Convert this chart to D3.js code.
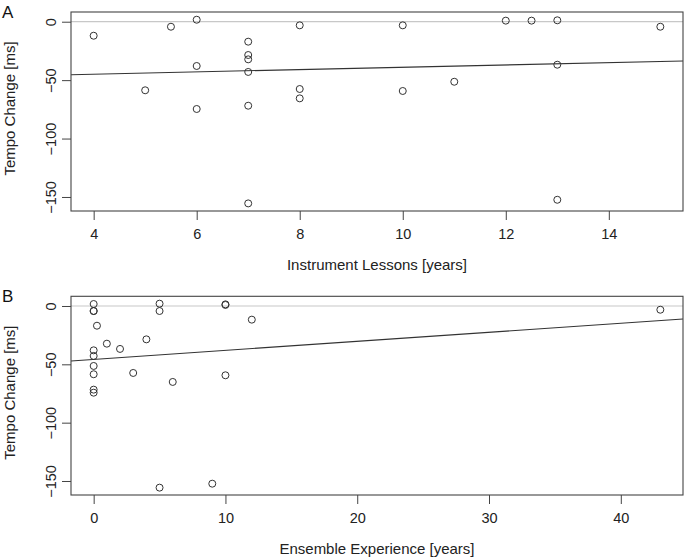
<!DOCTYPE html>
<html>
<head>
<meta charset="utf-8">
<script src="https://cdn.jsdelivr.net/npm/d3@7"></script>
<style>
  body { margin: 0; background: #fff; }
  svg { display: block; font-family: "Liberation Sans", Arial, Helvetica, sans-serif; }
</style>
</head>
<body>
<svg id="chart" width="685" height="559"></svg>
<script>
// Panel A: instrument lessons vs tempo change
const lessonsYears = [4, 5, 5.5, 6, 6, 6, 7, 7, 7, 7, 7, 7, 8, 8, 8, 10, 10, 11, 12, 12.5, 13, 13, 13, 15];
const lessonsTempo = [-12, -58.7, -4.3, 1.7, -37.9, -74.7, -17.1, -28.5, -32.2, -43, -71.9, -155.5, -3.1, -57.6, -65.6, -3.1, -59.3, -51.4, 0.9, 0.9, 1.2, -36.8, -152.4, -4.3];

// Panel B: ensemble experience vs tempo change
const ensembleYears = [0, 0, 0.25, 1, 2, 4, 0, 0, 0, 0, 0, 0, 3, 5, 5, 6, 10, 10, 10, 12, 5, 9, 43, 0];
const ensembleTempo = [1.7, -4.3, -16.9, -32.3, -36.8, -28.6, -38, -42.8, -51.4, -58.5, -71.7, -74.3, -57.4, 2, -4.3, -65.1, 1.4, 0.9, -59.4, -11.7, -155.7, -152.3, -3.2, -4.3];

// fitted lines [intercept, slope]
const fitA = [-48.9, 0.993];
const fitB = [-45.8, 0.775];

const xTicksA = [4, 6, 8, 10, 12, 14];
const xTicksB = [0, 10, 20, 30, 40];
const yTicks = [0, -50, -100, -150];

const svg = d3.select('#chart');
const left = 71, right = 683;

// R style: extend data range by 4% on each side
function rRange(vals) {
  const [lo, hi] = d3.extent(vals);
  const pad = (hi - lo) * 0.04;
  return [lo - pad, hi + pad];
}

const yDomain = rRange(lessonsTempo.concat(ensembleTempo));

function drawPanel(opts) {
  const { top, bottom, xs, ys, fit, xTicks, letter, xLabel } = opts;
  const g = svg.append('g');

  const x = d3.scaleLinear().domain(rRange(xs)).range([left, right]);
  const y = d3.scaleLinear().domain(yDomain).range([bottom, top]);

  // reference line at 0
  g.append('line')
    .attr('x1', left).attr('x2', right)
    .attr('y1', y(0)).attr('y2', y(0))
    .attr('stroke', '#c8c8c8')
    .attr('stroke-width', 1.2);

  // regression line
  const [x0, x1] = x.domain();
  g.append('line')
    .attr('x1', x(x0)).attr('x2', x(x1))
    .attr('y1', y(fit[0] + fit[1] * x0))
    .attr('y2', y(fit[0] + fit[1] * x1))
    .attr('stroke', '#333')
    .attr('stroke-width', 1.1);

  // points
  g.selectAll('circle')
    .data(xs.map((d, i) => [d, ys[i]]))
    .join('circle')
    .attr('cx', d => x(d[0]))
    .attr('cy', d => y(d[1]))
    .attr('r', 3.5)
    .attr('fill', 'none')
    .attr('stroke', '#333')
    .attr('stroke-width', 1);

  // box
  g.append('rect')
    .attr('x', left).attr('y', top)
    .attr('width', right - left).attr('height', bottom - top)
    .attr('fill', 'none')
    .attr('stroke', '#444')
    .attr('stroke-width', 1.1);

  // x axis
  const xAxis = g.append('g')
    .attr('transform', `translate(0,${bottom})`)
    .call(d3.axisBottom(x).tickValues(xTicks).tickSize(9).tickPadding(9).tickFormat(d3.format('d')));
  xAxis.select('.domain').remove();
  xAxis.selectAll('line').attr('stroke', '#444');
  xAxis.selectAll('text').attr('font-size', 14.5).attr('fill', '#222').attr('font-family', null);

  // y axis, labels rotated like R default
  const yAxis = g.append('g')
    .attr('transform', `translate(${left},0)`)
    .call(d3.axisLeft(y).tickValues(yTicks).tickSize(9).tickFormat(d3.format('d')));
  yAxis.select('.domain').remove();
  yAxis.selectAll('line').attr('stroke', '#444');
  yAxis.selectAll('text')
    .attr('font-size', 14.5).attr('fill', '#222').attr('font-family', null)
    .attr('x', null).attr('dy', null)
    .attr('text-anchor', 'middle')
    .attr('transform', 'translate(-20,0) rotate(-90)')
    .attr('dy', '0.35em');

  // axis titles
  g.append('text')
    .attr('x', (left + right) / 2)
    .attr('y', bottom + 59)
    .attr('text-anchor', 'middle')
    .attr('font-size', 15)
    .attr('fill', '#222')
    .text(xLabel);

  g.append('text')
    .attr('transform', `translate(15,${(top + bottom) / 2 - 3}) rotate(-90)`)
    .attr('text-anchor', 'middle')
    .attr('font-size', 15)
    .attr('fill', '#222')
    .text('Tempo Change [ms]');

  // panel letter
  g.append('text')
    .attr('x', 2)
    .attr('y', top + 5.5)
    .attr('font-size', 17)
    .attr('fill', '#111')
    .text(letter);
}

drawPanel({
  top: 12, bottom: 211,
  xs: lessonsYears, ys: lessonsTempo, fit: fitA,
  xTicks: xTicksA, letter: 'A', xLabel: 'Instrument Lessons [years]'
});

drawPanel({
  top: 296.3, bottom: 495,
  xs: ensembleYears, ys: ensembleTempo, fit: fitB,
  xTicks: xTicksB, letter: 'B', xLabel: 'Ensemble Experience [years]'
});
</script>
</body>
</html>
